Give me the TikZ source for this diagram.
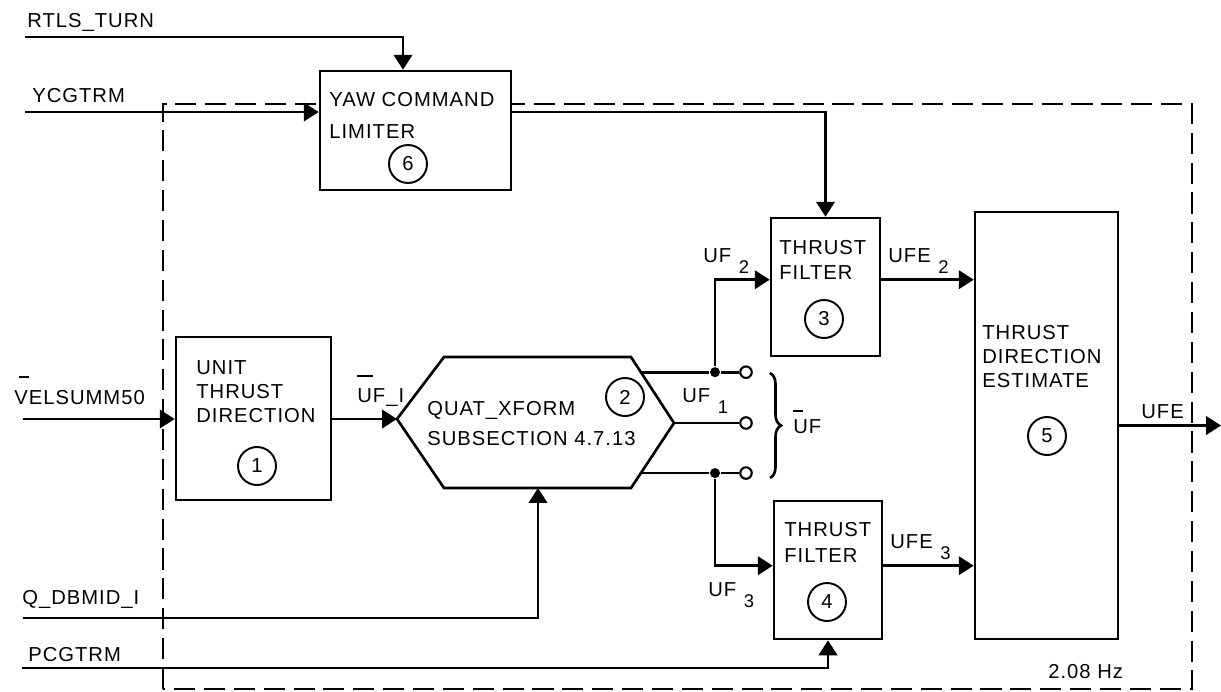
\documentclass[tikz,border=0pt]{standalone}
\usepackage{fontspec}
\setmainfont[LetterSpace=5]{Liberation Sans}
\usetikzlibrary{arrows.meta,calc,decorations.pathreplacing}

% sænket indeks og streg over bogstaver
\newcommand{\lo}[1]{\hspace{0.38em}\raisebox{-0.55em}{\fontsize{10.5}{12}\selectfont #1}}
\newcommand{\topbar}[3]{\makebox[0pt][l]{\hspace{#1}\rule[#2]{#3}{0.1em}}}

\begin{document}
\begin{tikzpicture}[x=0.02cm,y=-0.02cm,
    font=\fontsize{11.5}{13.6}\selectfont,
    line width=1.5pt,
    blk/.style={draw,line width=1.5pt,fill=white,inner sep=0pt},
    num/.style={draw,circle,line width=1.1pt,minimum size=0.76cm,inner sep=0pt},
    txt/.style={anchor=north west,inner sep=0pt,align=left},
    lbl/.style={anchor=base west,inner sep=0pt},
    arr/.style={-{Triangle[length=8.5pt,width=10.5pt]}},
    port/.style={draw,circle,fill=white,line width=1.2pt,minimum size=0.23cm,inner sep=0pt},
    dot/.style={fill,circle,minimum size=0.2cm,inner sep=0pt},
    rateframe/.style={dash pattern=on 12pt off 5pt}]
    \useasboundingbox (0,0) rectangle (1221,691);
    % stiplet ramme for 2.08 Hz
    \draw[rateframe] (163,689) -- (163,104) -- (1192,104) -- (1192,689) -- cycle;
    % blokke
    \node[blk,minimum width=3.82cm,minimum height=2.38cm] (yaw) at (415.5,130.5) {};
    \node[blk,minimum width=3.1cm,minimum height=3.26cm] (unit) at (253.5,418.5) {};
    \node[blk,minimum width=2.18cm,minimum height=2.76cm] (filt2) at (825.5,287) {};
    \node[blk,minimum width=2.16cm,minimum height=2.76cm] (filt3) at (828,570) {};
    \node[blk,minimum width=2.86cm,minimum height=8.54cm] (est) at (1046.5,425.5) {};
    \draw[fill=white] (397,419) coordinate (qin) -- (444,357) -- (631,357) coordinate (qne)
        -- (674,423) coordinate (qout) -- (631,488) coordinate (qse) -- (444,488) -- cycle;
    \coordinate (qbot) at (538,488);
    % tekst i blokkene
    \node[txt] (yawtxt) at (328,91.5) {YAW COMMAND\\[4.5pt]LIMITER};
    \node[txt] (unittxt) at (195,359.5) {UNIT\\THRUST\\DIRECTION};
    \node[txt] (quattxt) at (426,400.5) {QUAT\_XFORM\\[3.4pt]SUBSECTION 4.7.13};
    \node[txt] (f2txt) at (778,239.5) {THRUST\\[0.6pt]FILTER};
    \node[txt] (f3txt) at (783,521.5) {THRUST\\[1pt]FILTER};
    \node[txt] (esttxt) at (981,324.5) {THRUST\\DIRECTION\\ESTIMATE};
    \node[num] (n6) at (408,164) {6};
    \node[num] (n1) at (257,466) {1};
    \node[num] (n2) at (625,397) {2};
    \node[num] (n3) at (824,319) {3};
    \node[num] (n4) at (827,602) {4};
    \node[num] (n5) at (1047,436) {5};
    % udgange fra QUAT_XFORM
    \coordinate (q1) at ($(qne)!0.23!(qout)$);
    \coordinate (q3) at ($(qse)!0.23!(qout)$);
    \node[dot] (j2) at (q1 -| 715,0) {};
    \node[dot] (j3) at (q3 -| 715,0) {};
    \node[port] (o1) at (q1 -| 746,0) {};
    \node[port] (o2) at (qout -| 746,0) {};
    \node[port] (o3) at (q3 -| 746,0) {};
    \draw (q1) -- (j2) -- (o1);
    \draw (qout) -- (o2);
    \draw (q3) -- (j3) -- (o3);
    \draw[decorate,decoration={brace,amplitude=0.22cm}] (770,373) -- (770,478);
    % forbindelser
    \coordinate (rtls) at (25,37);
    \coordinate (ycg) at (25,112);
    \coordinate (vel) at (23,419);
    \coordinate (qdb) at (23,618);
    \coordinate (pcg) at (22,668);
    \coordinate (ufeout) at (1221,425.5);
    \coordinate (in2) at ($(filt2.north west)+(0,63)$);
    \coordinate (in3) at ($(filt3.north west)+(0,66)$);
    \draw[arr] (rtls) -| (403,0 |- yaw.north);
    \draw[arr] (ycg) -- (ycg -| yaw.west);
    \draw[arr] (ycg -| yaw.east) -| (filt2.north);
    \draw[arr] (vel) -- (vel -| unit.west);
    \draw[arr] (qin -| unit.east) -- (qin);
    \draw[arr] (qdb) -| (qbot);
    \draw[arr] (pcg) -| (filt3.south);
    \draw[arr] (j2) |- (in2);
    \draw[arr] (j3) |- (in3);
    \draw[arr] (in2 -| filt2.east) -- (in2 -| est.west);
    \draw[arr] (in3 -| filt3.east) -- (in3 -| est.west);
    \draw[arr] (est.east) -- (ufeout);
    % signalnavne
    \node[lbl] (rtlslbl) at (26,27) {RTLS\_TURN};
    \node[lbl] (ycglbl) at (31,102) {YCGTRM};
    \node[lbl] (vellbl) at (13,404) {\topbar{0.25em}{1.27em}{0.5em}VELSUMM50};
    \node[lbl] (ufilbl) at (356,402) {\topbar{0em}{1.22em}{0.8em}UF\_I};
    \node[lbl] (qdblbl) at (21,604) {Q\_DBMID\_I};
    \node[lbl] (pcglbl) at (27,661) {PCGTRM};
    \node[lbl] (uf2lbl) at (702,262) {UF\lo{2}};
    \node[lbl] (uf1lbl) at (681,402) {UF\lo{1}};
    \node[lbl] (uf3lbl) at (707,596) {UF\lo{3}};
    \node[lbl] (ufe2lbl) at (887,262) {UFE\lo{2}};
    \node[lbl] (ufe3lbl) at (889,548) {UFE\lo{3}};
    \node[lbl] (ufelbl) at (1140,418) {UFE};
    \node[lbl] (uflbl) at (792,433) {\topbar{0em}{1.03em}{0.5em}UF};
    \node[lbl] (ratelbl) at (1047,678) {2.08 Hz};
\end{tikzpicture}
\end{document}
